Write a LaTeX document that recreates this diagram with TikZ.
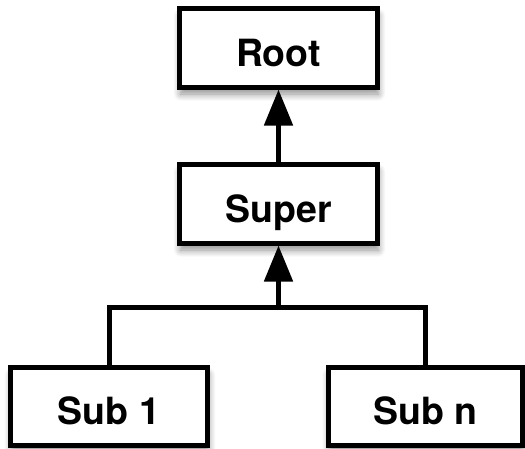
\documentclass[tikz,border=0pt]{standalone}
\usepackage{fontspec}
\setmainfont{TeX Gyre Heros}
\usetikzlibrary{arrows.meta,shadows.blur}
\tikzset{
  box/.style={draw=black, fill=white, line width=5pt, inner sep=0pt,
    text height=37pt, text depth=0pt,
    font=\fontsize{37.5}{40}\selectfont\bfseries,
    blur shadow={shadow xshift=1pt, shadow yshift=-7pt, shadow blur steps=10, shadow blur radius=7pt, shadow opacity=45}},
  conn/.style={draw=black, line width=5pt},
  arr/.style={conn, -{Triangle[length=36pt, width=28pt]}}
}
\begin{document}
\begin{tikzpicture}[x=1pt, y=-1pt]
\useasboundingbox (0,0) rectangle (525,448);
\node[box, minimum width=198pt, minimum height=78.5pt] (root) at (278.5,47.75) {Root};
\node[box, minimum width=198pt, minimum height=79pt] (super) at (278.5,203.5) {Super};
\node[box, minimum width=197pt, minimum height=77.5pt] (sub1) at (109,406.25) {Sub 1};
\node[box, minimum width=194pt, minimum height=77.5pt] (subn) at (425.25,406.25) {Sub n};
\coordinate (j) at (278.5,307);
\draw[conn] (sub1.north) |- (j) -| (subn.north);
\draw[arr] (j) -- (super.south);
\draw[arr] (super.north) -- (root.south);
\end{tikzpicture}
\end{document}
